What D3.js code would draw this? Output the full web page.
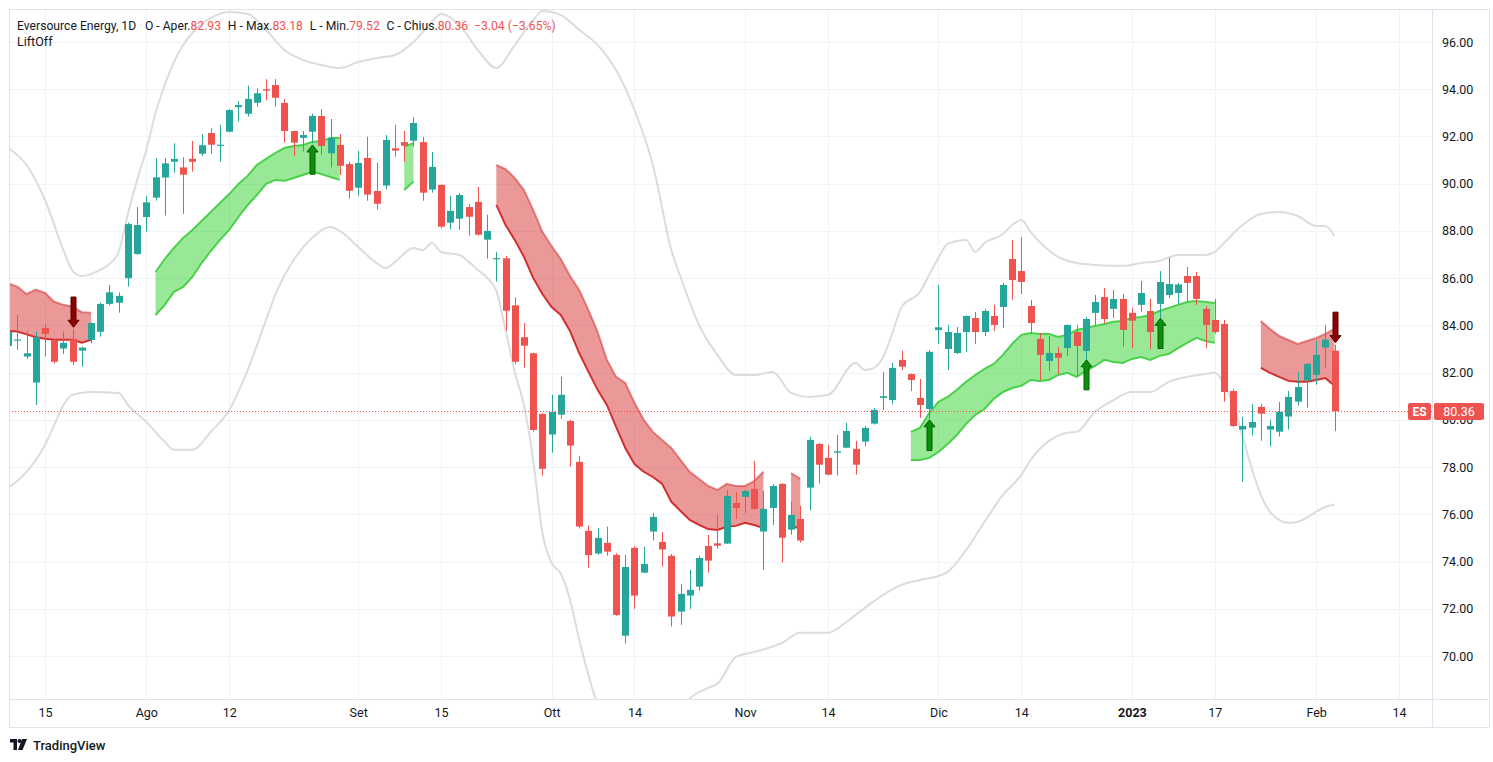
<!DOCTYPE html>
<html><head><meta charset="utf-8">
<script src="https://cdn.jsdelivr.net/npm/d3@7/dist/d3.min.js"></script>
<style>
body{margin:0;background:#fff;}
svg{display:block;font-family:Roboto,"Noto Sans",sans-serif;}
</style></head>
<body><svg id="c" width="1493" height="762"></svg>
<script>
// ---------- DATA ----------
const dates = ["2022-07-11","2022-07-12","2022-07-13","2022-07-14","2022-07-15","2022-07-18","2022-07-19","2022-07-20","2022-07-21","2022-07-22","2022-07-25","2022-07-26","2022-07-27","2022-07-28","2022-07-29",
"2022-08-01","2022-08-02","2022-08-03","2022-08-04","2022-08-05","2022-08-08","2022-08-09","2022-08-10","2022-08-11","2022-08-12","2022-08-15","2022-08-16","2022-08-17","2022-08-18","2022-08-19","2022-08-22","2022-08-23","2022-08-24","2022-08-25","2022-08-26","2022-08-29","2022-08-30","2022-08-31",
"2022-09-01","2022-09-02","2022-09-06","2022-09-07","2022-09-08","2022-09-09","2022-09-12","2022-09-13","2022-09-14","2022-09-15","2022-09-16","2022-09-19","2022-09-20","2022-09-21","2022-09-22","2022-09-23","2022-09-26","2022-09-27","2022-09-28","2022-09-29","2022-09-30",
"2022-10-03","2022-10-04","2022-10-05","2022-10-06","2022-10-07","2022-10-10","2022-10-11","2022-10-12","2022-10-13","2022-10-14","2022-10-17","2022-10-18","2022-10-19","2022-10-20","2022-10-21","2022-10-24","2022-10-25","2022-10-26","2022-10-27","2022-10-28","2022-10-31",
"2022-11-01","2022-11-02","2022-11-03","2022-11-04","2022-11-07","2022-11-08","2022-11-09","2022-11-10","2022-11-11","2022-11-14","2022-11-15","2022-11-16","2022-11-17","2022-11-18","2022-11-21","2022-11-22","2022-11-23","2022-11-25","2022-11-28","2022-11-29","2022-11-30",
"2022-12-01","2022-12-02","2022-12-05","2022-12-06","2022-12-07","2022-12-08","2022-12-09","2022-12-12","2022-12-13","2022-12-14","2022-12-15","2022-12-16","2022-12-19","2022-12-20","2022-12-21","2022-12-22","2022-12-23","2022-12-27","2022-12-28","2022-12-29","2022-12-30",
"2023-01-03","2023-01-04","2023-01-05","2023-01-06","2023-01-09","2023-01-10","2023-01-11","2023-01-12","2023-01-13","2023-01-17","2023-01-18","2023-01-19","2023-01-20","2023-01-23","2023-01-24","2023-01-25","2023-01-26","2023-01-27","2023-01-30","2023-01-31",
"2023-02-01","2023-02-02","2023-02-03"];

const open  = [83.13,83.35,82.68,81.58,83.89,83.38,83.02,83.43,82.93,83.38,83.73,84.91,84.96,86.00,87.02,
88.59,89.41,90.26,90.93,90.69,91.05,91.27,92.15,91.60,92.20,93.24,92.96,93.43,94.00,94.18,93.42,92.23,91.94,92.20,92.87,91.29,91.64,90.83,
89.83,91.09,89.69,89.92,91.50,91.76,91.82,91.76,89.75,89.95,88.35,88.52,89.01,89.23,87.63,86.80,86.84,84.85,83.50,82.82,80.25,
79.38,80.22,79.95,78.22,75.30,74.34,74.79,74.28,70.86,74.58,73.53,75.27,74.83,74.24,71.88,72.56,72.94,74.66,74.77,74.76,76.48,
76.74,77.08,75.27,76.27,77.29,75.35,75.80,77.13,78.98,78.39,78.61,78.82,78.77,79.08,79.84,80.93,80.84,82.54,81.94,80.93,80.46,
83.80,83.00,82.83,83.72,84.31,83.72,84.40,84.78,86.81,86.30,84.82,83.43,82.49,82.83,83.04,83.72,82.92,84.53,85.20,84.70,85.12,
84.53,84.87,84.61,84.91,85.29,85.37,86.09,86.09,84.70,84.23,84.06,81.22,79.59,79.67,80.55,79.59,79.50,80.14,80.77,81.66,
81.91,83.06,82.93];
const high  = [84.00,84.44,83.76,83.74,84.06,83.42,83.74,83.85,83.10,84.12,84.96,85.71,85.40,88.35,89.01,
89.48,91.08,91.08,91.71,91.12,91.81,92.09,92.35,92.49,93.16,93.50,94.15,94.04,94.43,94.43,93.59,92.25,92.23,92.97,93.16,92.74,92.10,90.93,
91.39,91.99,90.89,92.06,92.49,92.23,92.82,91.98,91.34,89.97,89.48,89.61,89.14,89.86,88.68,87.10,86.94,85.19,84.10,82.85,80.28,
81.06,81.83,80.00,78.47,75.54,75.42,75.48,74.35,74.28,74.64,74.62,76.06,75.25,74.32,73.05,73.65,74.24,75.13,75.97,77.03,76.95,
77.03,78.26,76.99,77.29,77.31,76.53,76.36,79.28,79.02,78.94,79.36,79.87,79.11,79.74,80.50,82.03,82.41,82.93,81.96,81.73,82.96,
85.71,84.02,83.93,84.42,84.57,84.70,84.87,85.80,87.62,87.74,85.08,83.68,83.55,83.09,84.04,84.02,84.36,85.29,85.59,85.50,85.33,
84.74,85.88,85.12,86.30,86.86,85.80,86.47,86.26,84.82,85.12,84.23,81.31,80.12,80.67,80.67,80.00,80.76,81.22,82.03,82.40,
83.34,84.02,83.18];
const low   = [82.90,82.96,82.58,80.63,82.68,82.38,82.79,82.33,82.25,83.24,83.52,84.84,84.54,85.64,87.00,
87.97,89.28,88.65,90.47,88.72,90.51,91.17,91.26,90.93,92.18,92.63,92.84,93.26,93.54,93.26,91.74,91.17,91.36,91.71,91.22,90.69,90.37,89.37,
89.49,89.28,88.90,89.76,91.14,90.93,91.57,89.28,89.62,88.10,88.07,88.05,87.80,87.80,86.83,85.85,83.78,82.35,82.21,79.50,77.64,
78.61,80.05,78.02,75.40,73.74,74.29,74.25,71.70,70.53,72.00,73.50,74.89,73.79,71.25,71.32,72.00,72.77,73.53,74.55,74.74,75.80,
76.06,76.19,73.65,75.55,73.96,75.14,74.80,76.16,77.30,77.65,77.64,78.80,77.68,78.87,79.80,80.42,80.66,82.11,81.22,80.08,80.04,
83.21,82.11,82.79,82.88,83.21,83.55,83.76,83.89,85.08,85.33,83.64,81.69,82.08,81.94,82.71,81.86,82.54,83.98,84.06,84.31,83.09,
83.04,84.57,83.00,84.31,85.16,84.91,84.99,84.87,83.04,83.64,80.76,79.70,77.38,79.33,79.12,78.87,79.29,79.59,80.60,80.52,
81.49,82.21,79.52];
const close = [83.73,83.40,82.82,83.50,83.64,82.46,83.26,82.46,83.06,84.10,84.91,85.40,85.25,88.29,88.25,
89.21,90.27,90.86,91.05,90.38,90.93,91.63,91.65,91.65,93.12,93.33,93.59,93.83,93.94,93.64,92.23,91.74,92.06,92.87,91.60,91.94,90.76,89.70,
90.88,89.54,89.15,91.85,91.40,91.61,92.57,89.62,90.71,88.18,88.85,89.52,88.60,87.84,88.00,86.85,84.62,82.46,83.14,79.57,77.93,
80.34,81.06,78.91,75.48,74.27,75.00,74.42,71.74,73.77,72.56,73.90,75.89,74.51,71.67,72.63,72.80,74.15,74.04,74.67,76.78,76.27,
76.99,76.23,76.23,77.20,75.01,75.97,74.89,79.15,78.10,77.68,78.67,79.53,78.10,79.66,80.42,81.00,82.20,82.25,81.69,80.63,82.88,
83.92,83.72,83.68,84.40,83.72,84.61,84.02,85.71,85.92,85.84,84.10,82.75,82.83,82.63,84.02,83.13,84.27,84.99,84.27,85.12,83.81,
84.20,85.37,83.72,85.84,85.75,85.73,85.80,85.12,84.02,83.72,81.18,79.74,79.74,79.91,80.26,79.74,80.34,80.97,81.39,82.37,
82.75,83.40,80.36];

const priceTicks = [70,72,74,76,78,80,82,84,86,88,90,92,94,96];
const timeTicks = [["2022-07-15","15"],["2022-08-01","Ago"],["2022-08-12","12"],["2022-09-01","Set"],["2022-09-15","15"],["2022-10-03","Ott"],["2022-10-14","14"],["2022-11-01","Nov"],["2022-11-14","14"],["2022-12-01","Dic"],["2022-12-14","14"],["2023-01-03","2023"],["2023-01-17","17"],["2023-02-01","Feb"],["2023-02-14","14"]];

// outer envelope (light grey lines) [date, value]
const envUpper = [["2022-07-11",91.51],["2022-07-13",90.79],["2022-07-15",89.31],["2022-07-19",87.19],["2022-07-20",86.30],["2022-07-21",86.09],["2022-07-25",86.35],["2022-07-26",86.60],["2022-07-27",87.11],["2022-07-28",88.72],["2022-07-29",90.16],["2022-08-01",91.43],["2022-08-02",92.99],["2022-08-03",94.18],["2022-08-04",95.15],["2022-08-05",95.87],["2022-08-08",96.38],["2022-08-10",97.02],["2022-08-12",97.27],["2022-08-16",97.19],["2022-08-18",96.51],["2022-08-22",95.66],["2022-08-24",95.24],["2022-08-26",95.03],["2022-08-30",94.90],["2022-09-01",95.15],["2022-09-06",95.32],["2022-09-08",95.45],["2022-09-12",96.00],["2022-09-14",96.85],["2022-09-15",97.19],["2022-09-19",96.72],["2022-09-21",95.66],["2022-09-23",94.90],["2022-09-27",95.87],["2022-09-29",96.93],["2022-09-30",97.31],["2022-10-04",97.14],["2022-10-06",96.51],["2022-10-10",95.87],["2022-10-12",94.81],["2022-10-14",93.12],["2022-10-18",90.79],["2022-10-20",87.19],["2022-10-21",86.05],["2022-10-25",84.02],["2022-10-27",82.75],["2022-10-31",81.90],["2022-11-02",81.90],["2022-11-04",82.03],["2022-11-08",81.14],["2022-11-10",80.97],["2022-11-14",81.06],["2022-11-17",82.41],["2022-11-18",82.11],["2022-11-21",82.20],["2022-11-22",82.66],["2022-11-23",83.68],["2022-11-25",84.78],["2022-11-29",85.42],["2022-11-30",86.14],["2022-12-01",86.86],["2022-12-02",87.45],["2022-12-06",87.62],["2022-12-07",87.11],["2022-12-08",87.49],["2022-12-12",87.87],["2022-12-13",88.25],["2022-12-14",88.46],["2022-12-15",87.96],["2022-12-16",87.53],["2022-12-20",86.90],["2022-12-22",86.64],["2022-12-27",86.56],["2022-12-30",86.52],["2023-01-04",86.64],["2023-01-06",86.73],["2023-01-10",86.98],["2023-01-13",86.98],["2023-01-17",87.11],["2023-01-18",87.49],["2023-01-20",88.25],["2023-01-24",88.72],["2023-01-26",88.80],["2023-01-30",88.63],["2023-02-01",88.21],["2023-02-02",88.21],["2023-02-03",87.79]];
const envLower = [["2022-07-11",77.12],["2022-07-13",77.80],["2022-07-15",78.94],["2022-07-18",79.78],["2022-07-19",80.63],["2022-07-20",81.06],["2022-07-22",81.18],["2022-07-27",81.14],["2022-07-28",80.63],["2022-08-01",79.91],["2022-08-03",79.07],["2022-08-04",78.73],["2022-08-08",78.73],["2022-08-10",79.49],["2022-08-12",80.42],["2022-08-16",82.11],["2022-08-18",84.23],["2022-08-19",85.29],["2022-08-23",86.77],["2022-08-25",87.70],["2022-08-29",88.17],["2022-08-30",88.00],["2022-09-01",87.32],["2022-09-06",86.64],["2022-09-07",86.43],["2022-09-08",86.69],["2022-09-12",87.28],["2022-09-13",87.19],["2022-09-14",87.49],["2022-09-15",87.11],["2022-09-19",86.98],["2022-09-20",86.69],["2022-09-21",86.35],["2022-09-22",86.01],["2022-09-23",85.46],["2022-09-26",83.81],["2022-09-27",82.03],["2022-09-28",80.63],["2022-09-29",78.30],["2022-09-30",75.21],["2022-10-03",73.94],["2022-10-04",73.48],["2022-10-05",72.38],["2022-10-06",70.68],["2022-10-07",69.20],["2022-10-10",67.93],["2022-10-12",66.80],["2022-10-17",66.30],["2022-10-20",67.00],["2022-10-24",68.19],["2022-10-26",68.65],["2022-10-27",68.82],["2022-10-31",69.96],["2022-11-02",70.17],["2022-11-07",70.55],["2022-11-09",70.98],["2022-11-14",70.98],["2022-11-16",71.44],["2022-11-18",72.04],["2022-11-22",72.59],["2022-11-25",73.01],["2022-11-29",73.22],["2022-12-01",73.39],["2022-12-02",73.56],["2022-12-06",74.49],["2022-12-08",75.68],["2022-12-12",76.82],["2022-12-14",77.67],["2022-12-15",78.30],["2022-12-19",79.11],["2022-12-21",79.45],["2022-12-22",79.49],["2022-12-27",80.34],["2022-12-29",80.84],["2023-01-03",81.18],["2023-01-05",81.18],["2023-01-09",81.61],["2023-01-11",81.82],["2023-01-13",81.94],["2023-01-17",81.99],["2023-01-18",81.52],["2023-01-19",80.63],["2023-01-20",79.32],["2023-01-23",77.96],["2023-01-24",76.82],["2023-01-25",76.10],["2023-01-27",75.64],["2023-01-30",75.68],["2023-02-01",76.10],["2023-02-02",76.31],["2023-02-03",76.40]];

// LiftOff bands [date, top, bottom]
const redBand1 = [["2022-07-11",85.78,83.77],["2022-07-12",85.64,83.74],["2022-07-13",85.33,83.62],["2022-07-14",85.52,83.50],["2022-07-15",85.38,83.43],["2022-07-18",85.00,83.39],["2022-07-19",84.87,83.39],["2022-07-20",84.79,83.39],["2022-07-21",84.56,83.27],["2022-07-22",84.54,83.39]];
const greenBand1 = [["2022-08-02",86.26,84.44],["2022-08-03",86.81,84.87],["2022-08-04",87.28,85.42],["2022-08-05",87.70,85.63],["2022-08-08",88.04,86.05],["2022-08-09",88.42,86.64],["2022-08-10",88.80,87.15],["2022-08-11",89.18,87.62],["2022-08-12",89.56,88.04],["2022-08-15",89.99,88.59],["2022-08-16",90.33,89.10],["2022-08-17",90.79,89.52],["2022-08-18",91.05,89.99],["2022-08-19",91.30,90.16],["2022-08-22",91.51,90.12],["2022-08-23",91.60,90.24],["2022-08-24",91.64,90.37],["2022-08-25",91.77,90.50],["2022-08-26",91.81,90.41],["2022-08-29",91.94,90.28],["2022-08-30",91.94,90.16]];
const greenBand2 = [["2022-09-09",91.57,89.73],["2022-09-12",91.71,90.09]];
const redBand2 = [["2022-09-23",90.79,89.10],["2022-09-26",90.62,88.25],["2022-09-27",90.24,87.62],["2022-09-28",89.73,86.90],["2022-09-29",88.89,86.01],["2022-09-30",87.96,85.33],["2022-10-03",87.36,84.78],["2022-10-04",86.81,84.44],["2022-10-05",86.09,83.76],["2022-10-06",85.50,82.83],["2022-10-07",84.65,82.03],["2022-10-10",83.72,81.27],["2022-10-11",82.54,80.63],["2022-10-12",81.82,79.70],["2022-10-13",81.56,78.81],["2022-10-14",80.72,78.13],["2022-10-17",80.00,77.80],["2022-10-18",79.49,77.58],["2022-10-19",79.15,77.29],["2022-10-20",78.81,76.53],["2022-10-21",78.30,76.14],["2022-10-24",77.80,75.76],["2022-10-25",77.50,75.55],["2022-10-26",77.20,75.38],["2022-10-27",77.03,75.34],["2022-10-28",77.29,75.47],["2022-10-31",77.20,75.51],["2022-11-01",77.20,75.64],["2022-11-02",77.41,75.55],["2022-11-03",77.80,75.42]];
const redBand3 = [["2022-11-08",77.75,75.47],["2022-11-09",77.50,75.42]];
const greenBand3 = [["2022-11-28",79.49,78.30],["2022-11-29",79.66,78.30],["2022-11-30",80.29,78.39],["2022-12-01",80.76,78.64],["2022-12-02",80.97,78.98],["2022-12-05",81.27,79.36],["2022-12-06",81.61,79.83],["2022-12-07",81.90,80.21],["2022-12-08",82.16,80.46],["2022-12-09",82.37,80.89],["2022-12-12",82.75,81.18],["2022-12-13",83.21,81.35],["2022-12-14",83.60,81.44],["2022-12-15",83.68,81.69],["2022-12-16",83.64,81.65],["2022-12-19",83.64,81.69],["2022-12-20",83.51,81.90],["2022-12-21",83.60,81.99],["2022-12-22",83.81,81.82],["2022-12-23",83.89,82.07],["2022-12-27",83.98,82.28],["2022-12-28",84.06,82.54],["2022-12-29",84.15,82.45],["2022-12-30",84.19,82.41],["2023-01-03",84.31,82.58],["2023-01-04",84.36,82.66],["2023-01-05",84.44,82.54],["2023-01-06",84.61,82.71],["2023-01-09",84.74,82.79],["2023-01-10",84.87,83.04],["2023-01-11",84.99,83.26],["2023-01-12",85.03,83.47],["2023-01-13",84.99,83.34],["2023-01-17",84.95,83.26]];
const redBand4 = [["2023-01-24",84.19,82.20],["2023-01-25",83.85,81.99],["2023-01-26",83.55,81.82],["2023-01-27",83.38,81.65],["2023-01-30",83.21,81.61],["2023-01-31",83.34,81.61],["2023-02-01",83.47,81.69],["2023-02-02",83.64,81.77],["2023-02-03",83.85,81.44]];

// signals [date, direction, tail price, tip price]
const signals = [["2022-07-20","down",85.20,83.92],["2022-08-25","up",90.40,91.64],["2022-11-30","up",78.70,80.00],["2022-12-23","up",81.27,82.54],["2023-01-06","up",83.02,84.30],["2023-02-03","down",84.56,83.27]];

// ---------- CHART ----------
const svg = d3.select("#c");
const P = {l:9, r:1432, t:9, b:699, axisR:1489, bottom:727};
const C = {up:"#26a69a", down:"#ef5350", grid:"#f0f3fa", border:"#e0e3eb", text:"#131722"};

const cal = dates.slice();
let dd = new Date(dates[dates.length-1] + "T00:00:00Z");
while (cal.length < dates.length + 20) {
  dd = new Date(dd.getTime() + 86400000);
  const wd = dd.getUTCDay();
  if (wd > 0 && wd < 6) cal.push(dd.toISOString().slice(0,10));
}
const idx = new Map(cal.map((s,i)=>[s,i]));
const x = d3.scaleLinear().domain([idx.get("2022-07-15"), idx.get("2023-02-14")]).range([45, 1399]);
const y = d3.scaleLinear().domain([70, 96]).range([656, 42]);
const X = s => x(idx.get(s));

svg.append("rect").attr("width",1493).attr("height",762).attr("fill","#fff");
svg.append("defs").append("clipPath").attr("id","clip").append("rect")
  .attr("x",P.l).attr("y",P.t).attr("width",P.r-P.l).attr("height",P.b-P.t);

// grid
const grid = svg.append("g");
grid.selectAll("line.h").data(priceTicks).join("line")
  .attr("x1",P.l).attr("x2",P.r).attr("y1",d=>Math.round(y(d))+0.5).attr("y2",d=>Math.round(y(d))+0.5)
  .attr("stroke",C.grid);
grid.selectAll("line.v").data(timeTicks).join("line")
  .attr("x1",d=>Math.round(X(d[0]))+0.5).attr("x2",d=>Math.round(X(d[0]))+0.5).attr("y1",P.t).attr("y2",P.b)
  .attr("stroke",C.grid);

const plot = svg.append("g").attr("clip-path","url(#clip)");

// envelope lines
const envLine = d3.line().x(d=>X(d[0])).y(d=>y(d[1])).curve(d3.curveMonotoneX);
[envUpper, envLower].forEach(arr=>{
  plot.append("path").attr("d",envLine(arr)).attr("fill","none")
    .attr("stroke","#dcdcdc").attr("stroke-width",2);
});

// bands
function band(arr, kind){
  const area = d3.area().x(d=>X(d[0])).y0(d=>y(d[2])).y1(d=>y(d[1]));
  const top = d3.line().x(d=>X(d[0])).y(d=>y(d[1]));
  const bot = d3.line().x(d=>X(d[0])).y(d=>y(d[2]));
  if (kind==="red"){
    plot.append("path").attr("d",area(arr)).attr("fill","rgba(214,50,50,0.5)");
    plot.append("path").attr("d",top(arr)).attr("fill","none").attr("stroke","rgba(214,50,50,0.55)").attr("stroke-width",2);
    plot.append("path").attr("d",bot(arr)).attr("fill","none").attr("stroke","#d32f2f").attr("stroke-width",2);
  } else {
    plot.append("path").attr("d",area(arr)).attr("fill","rgba(50,210,50,0.5)");
    plot.append("path").attr("d",top(arr)).attr("fill","none").attr("stroke","#4ad14a").attr("stroke-width",2);
    plot.append("path").attr("d",bot(arr)).attr("fill","none").attr("stroke","#4ad14a").attr("stroke-width",2);
  }
}
band(redBand1,"red"); band(greenBand1,"green"); band(greenBand2,"green");
band(redBand2,"red"); band(redBand3,"red"); band(greenBand3,"green"); band(redBand4,"red");

// candles
const candles = dates.map((d,i)=>({d, o:open[i], h:high[i], l:low[i], c:close[i]}));
const cg = plot.append("g");
cg.selectAll("line").data(candles).join("line")
  .attr("x1",d=>Math.round(X(d.d))+0.5).attr("x2",d=>Math.round(X(d.d))+0.5)
  .attr("y1",d=>y(d.h)).attr("y2",d=>y(d.l))
  .attr("stroke",d=>d.c>=d.o?C.up:C.down).attr("stroke-width",1);
cg.selectAll("rect").data(candles).join("rect")
  .attr("x",d=>Math.round(X(d.d))-3).attr("width",7)
  .attr("y",d=>y(Math.max(d.o,d.c)))
  .attr("height",d=>Math.max(1,Math.abs(y(d.o)-y(d.c))))
  .attr("fill",d=>d.c>=d.o?C.up:C.down);

// signal arrows
signals.forEach(([d,dir,tail,tip])=>{
  const cx = Math.round(X(d))+0.5, yt=y(tip), ya=y(tail);
  const s = dir==="up"?1:-1, hh=7;
  const p = `M${cx-2.5},${ya} L${cx-2.5},${yt+s*hh} L${cx-5.5},${yt+s*hh} L${cx},${yt} L${cx+5.5},${yt+s*hh} L${cx+2.5},${yt+s*hh} L${cx+2.5},${ya} Z`;
  plot.append("path").attr("d",p)
    .attr("fill",dir==="up"?"#0a900a":"#8b0000")
    .attr("stroke",dir==="up"?"#045c04":"#5a0000").attr("stroke-width",1);
});

// last price line
const last = candles[candles.length-1], prev = candles[candles.length-2];
const ly = Math.round(y(last.c))+0.5;
svg.append("line").attr("x1",P.l).attr("x2",P.r).attr("y1",ly).attr("y2",ly)
  .attr("stroke",C.down).attr("stroke-dasharray","1,2");

// frame
svg.append("rect").attr("x",P.l+0.5).attr("y",P.t+0.5).attr("width",P.axisR-P.l).attr("height",P.bottom-P.t)
  .attr("fill","none").attr("stroke",C.border);
svg.append("line").attr("x1",P.r+0.5).attr("x2",P.r+0.5).attr("y1",P.t).attr("y2",P.bottom).attr("stroke",C.border);
svg.append("line").attr("x1",P.l).attr("x2",P.axisR).attr("y1",P.b+0.5).attr("y2",P.b+0.5).attr("stroke",C.border);

// axes
const yAxG = svg.append("g").attr("transform",`translate(${P.r},0)`)
  .call(d3.axisRight(y).tickValues(priceTicks).tickFormat(d3.format(".2f")).tickSize(0).tickPadding(10));
yAxG.select(".domain").remove();
yAxG.selectAll("text").attr("fill",C.text).style("font-size","12.5px").style("font-family","Roboto,sans-serif");

const tickIdx = timeTicks.map(t=>idx.get(t[0]));
const tickLab = new Map(timeTicks.map(t=>[idx.get(t[0]),t[1]]));
const xa = svg.append("g").attr("transform",`translate(0,${P.b})`)
  .call(d3.axisBottom(x).tickValues(tickIdx).tickFormat(i=>tickLab.get(i)).tickSize(0).tickPadding(9));
xa.select(".domain").remove();
xa.selectAll("text").attr("fill",C.text).style("font-size","12.5px").style("font-family","Roboto,sans-serif")
  .style("font-weight",i=>tickLab.get(i)==="2023"?"bold":"normal");

// price label + ES tag (drawn over the axis, like the reference)
svg.append("rect").attr("x",1434).attr("y",ly-8.5).attr("width",50).attr("height",17).attr("rx",2).attr("fill",C.down);
svg.append("text").attr("x",1459).attr("y",ly+4.5).attr("text-anchor","middle").attr("fill","#fff")
  .style("font-size","12.5px").text(d3.format(".2f")(last.c));
svg.append("rect").attr("x",1408).attr("y",ly-8.5).attr("width",23).attr("height",17).attr("rx",2).attr("fill",C.down);
svg.append("text").attr("x",1419.5).attr("y",ly+4.5).attr("text-anchor","middle").attr("fill","#fff")
  .style("font-size","12px").style("font-weight","bold").text("ES");

// header legend
const chg = last.c - prev.c, pct = chg/prev.c*100;
const fm = d3.format(".2f");
const sgn = v => (v<0?"\u2212":"+") + fm(Math.abs(v));
const col = last.c>=last.o?C.up:C.down;
const hdrParts = [["Eversource Energy, 1D",0,C.text],["O - Aper.",9,C.text],[fm(last.o),0,col],["H - Max.",7,C.text],[fm(last.h),0,col],
  ["L - Min.",7,C.text],[fm(last.l),0,col],["C - Chius.",7,C.text],[fm(last.c),0,col],[`${sgn(chg)} (${sgn(pct)}%)`,6,col]];
const hdrG = svg.append("g");
const hdr = hdrG.append("text").attr("x",0).attr("y",0).style("font-size","12.5px");
hdrParts.forEach(([t,dx,c])=>hdr.append("tspan").attr("dx",dx).attr("fill",c).text(t));
const bw = hdr.node().getBBox().width;
const kx = Math.min(1, 539 / bw);
hdrG.attr("transform",`translate(17,30) scale(${kx},1)`);
svg.append("text").attr("x",17).attr("y",46).attr("fill",C.text).style("font-size","12.5px").text("LiftOff");

// TradingView logo
const lg = svg.append("g").attr("transform","translate(10,739)");
lg.append("path").attr("d","M0,0 H7 V11 H3.5 V3.5 H0 Z").attr("fill",C.text);
lg.append("circle").attr("cx",9.5).attr("cy",2).attr("r",2).attr("fill",C.text);
lg.append("path").attr("d","M12,0 H17 L12.5,11 H8 Z").attr("fill",C.text);
svg.append("text").attr("x",33).attr("y",749.5).attr("fill",C.text).style("font-size","13px").style("font-weight","500").text("TradingView");
</script></body></html>
